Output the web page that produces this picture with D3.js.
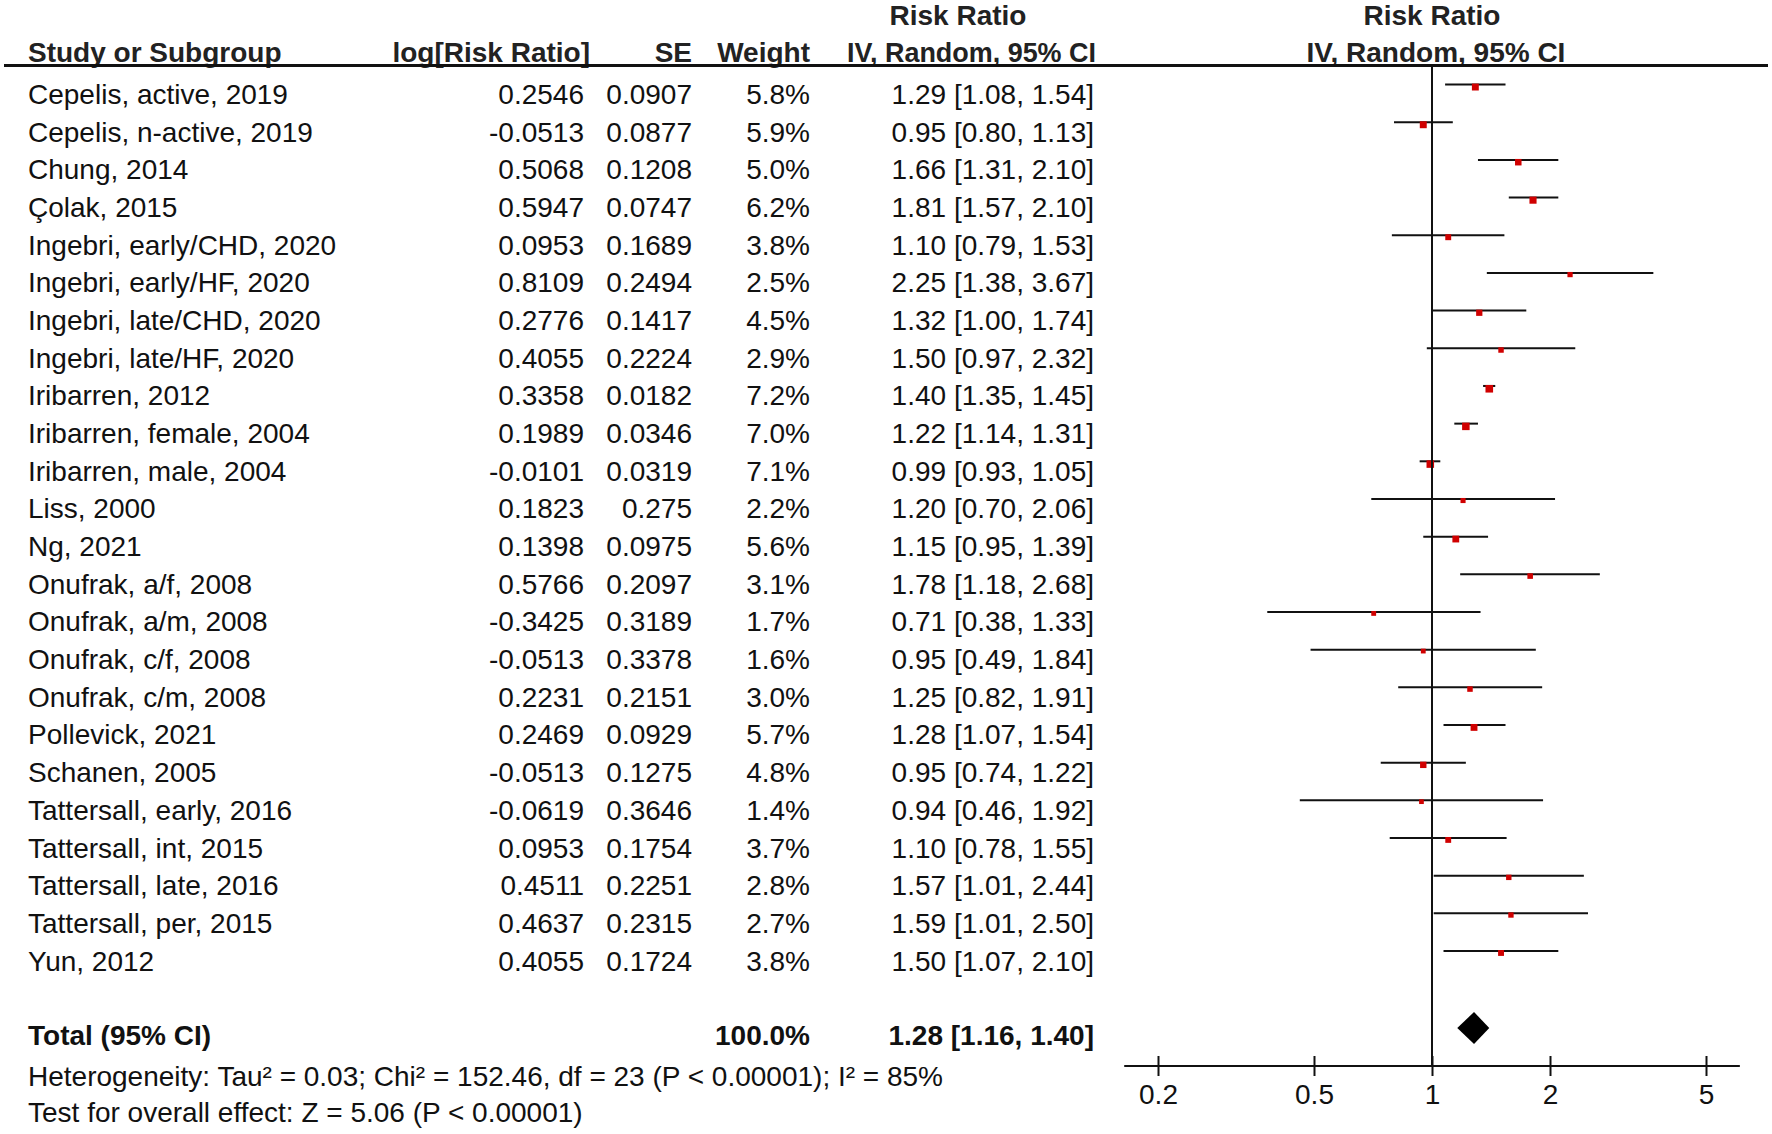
<!DOCTYPE html>
<html>
<head>
<meta charset="utf-8">
<script src="https://cdn.jsdelivr.net/npm/d3@7"></script>
<style>
  body { margin: 0; background: #fff; }
  svg { display: block; font-family: "Liberation Sans", Arial, sans-serif; }
</style>
</head>
<body>
<svg id="chart"></svg>
<script>
var studies = [
  "Cepelis, active, 2019", "Cepelis, n-active, 2019", "Chung, 2014", "Çolak, 2015",
  "Ingebri, early/CHD, 2020", "Ingebri, early/HF, 2020", "Ingebri, late/CHD, 2020",
  "Ingebri, late/HF, 2020", "Iribarren, 2012", "Iribarren, female, 2004",
  "Iribarren, male, 2004", "Liss, 2000", "Ng, 2021", "Onufrak, a/f, 2008",
  "Onufrak, a/m, 2008", "Onufrak, c/f, 2008", "Onufrak, c/m, 2008", "Pollevick, 2021",
  "Schanen, 2005", "Tattersall, early, 2016", "Tattersall, int, 2015",
  "Tattersall, late, 2016", "Tattersall, per, 2015", "Yun, 2012"
];
var logRR = [0.2546, -0.0513, 0.5068, 0.5947, 0.0953, 0.8109, 0.2776, 0.4055, 0.3358, 0.1989,
  -0.0101, 0.1823, 0.1398, 0.5766, -0.3425, -0.0513, 0.2231, 0.2469, -0.0513, -0.0619,
  0.0953, 0.4511, 0.4637, 0.4055];
var se = [0.0907, 0.0877, 0.1208, 0.0747, 0.1689, 0.2494, 0.1417, 0.2224, 0.0182, 0.0346,
  0.0319, 0.275, 0.0975, 0.2097, 0.3189, 0.3378, 0.2151, 0.0929, 0.1275, 0.3646,
  0.1754, 0.2251, 0.2315, 0.1724];
var weight = [5.8, 5.9, 5.0, 6.2, 3.8, 2.5, 4.5, 2.9, 7.2, 7.0, 7.1, 2.2, 5.6, 3.1, 1.7, 1.6,
  3.0, 5.7, 4.8, 1.4, 3.7, 2.8, 2.7, 3.8];
var rr = [1.29, 0.95, 1.66, 1.81, 1.10, 2.25, 1.32, 1.50, 1.40, 1.22, 0.99, 1.20, 1.15, 1.78,
  0.71, 0.95, 1.25, 1.28, 0.95, 0.94, 1.10, 1.57, 1.59, 1.50];
var lower = [1.08, 0.80, 1.31, 1.57, 0.79, 1.38, 1.00, 0.97, 1.35, 1.14, 0.93, 0.70, 0.95, 1.18,
  0.38, 0.49, 0.82, 1.07, 0.74, 0.46, 0.78, 1.01, 1.01, 1.07];
var upper = [1.54, 1.13, 2.10, 2.10, 1.53, 3.67, 1.74, 2.32, 1.45, 1.31, 1.05, 2.06, 1.39, 2.68,
  1.33, 1.84, 1.91, 1.54, 1.22, 1.92, 1.55, 2.44, 2.50, 2.10];
var total = { rr: 1.28, lower: 1.16, upper: 1.40, weight: 100.0 };
var tickValues = [0.2, 0.5, 1, 2, 5];
var axisExtent = [0.164, 6.1];
var heterogeneity = "Heterogeneity: Tau\u00b2 = 0.03; Chi\u00b2 = 152.46, df = 23 (P < 0.00001); I\u00b2 = 85%";
var overallEffect = "Test for overall effect: Z = 5.06 (P < 0.00001)";

var width = 1772, height = 1134,
    fontSize = 28,
    rowStep = 37.67,
    firstLine = 84.6,      // y of the first CI line
    textOffset = 19.5,     // baseline sits below the CI line
    headerLineY = 65.5,
    axisY = 1066,
    col = { name: 28, log: 584, se: 692, weight: 810, ci: 1094 };

var rows = studies.map(function(name, i) {
  return { name: name, log: logRR[i], se: se[i], weight: weight[i],
           rr: rr[i], lower: lower[i], upper: upper[i] };
});

var svg = d3.select("#chart")
  .attr("width", width)
  .attr("height", height)
  .style("font-size", fontSize + "px");

var x = d3.scaleLog().domain([0.2, 5]).range([1158, 1706]);
var y = d3.scaleLinear().domain([0, 1]).range([firstLine, firstLine + rowStep]);
var boxSize = d3.scaleLinear().domain([0, 10]).range([4, 9]);

function fmt(v) { return v.toFixed(2); }
function ciText(d) { return fmt(d.rr) + " [" + fmt(d.lower) + ", " + fmt(d.upper) + "]"; }

// header
var head = svg.append("g").style("font-weight", "bold").attr("fill", "#222");
head.append("text").attr("x", 958).attr("y", 25).attr("text-anchor", "middle").text("Risk Ratio");
head.append("text").attr("x", x(1)).attr("y", 25).attr("text-anchor", "middle").text("Risk Ratio");
[
  { t: "Study or Subgroup", x: col.name, a: "start" },
  { t: "log[Risk Ratio]", x: 590, a: "end" },
  { t: "SE", x: col.se, a: "end" },
  { t: "Weight", x: col.weight, a: "end" },
  { t: "IV, Random, 95% CI", x: 847, a: "start", len: 249 },
  { t: "IV, Random, 95% CI", x: 1436, a: "middle" }
].forEach(function(h) {
  var t = head.append("text")
    .attr("x", h.x).attr("y", 62)
    .attr("text-anchor", h.a)
    .style("text-decoration", "underline")
    .text(h.t);
  if (h.len) t.attr("textLength", h.len).attr("lengthAdjust", "spacingAndGlyphs");
});

svg.append("line")
  .attr("x1", 4).attr("x2", 1768)
  .attr("y1", headerLineY).attr("y2", headerLineY)
  .attr("stroke", "#111").attr("stroke-width", 3);

// study rows
var row = svg.selectAll("g.row")
  .data(rows)
  .enter().append("g")
  .attr("class", "row")
  .attr("fill", "#111");

row.append("text").attr("x", col.name).attr("y", function(d, i) { return y(i) + textOffset; })
  .text(function(d) { return d.name; });
row.append("text").attr("x", col.log).attr("text-anchor", "end")
  .attr("y", function(d, i) { return y(i) + textOffset; })
  .text(function(d) { return String(d.log); });
row.append("text").attr("x", col.se).attr("text-anchor", "end")
  .attr("y", function(d, i) { return y(i) + textOffset; })
  .text(function(d) { return String(d.se); });
row.append("text").attr("x", col.weight).attr("text-anchor", "end")
  .attr("y", function(d, i) { return y(i) + textOffset; })
  .text(function(d) { return d.weight.toFixed(1) + "%"; });
row.append("text").attr("x", col.ci).attr("text-anchor", "end")
  .attr("y", function(d, i) { return y(i) + textOffset; })
  .text(ciText);

// line of no effect
svg.append("line")
  .attr("x1", x(1)).attr("x2", x(1))
  .attr("y1", headerLineY).attr("y2", axisY)
  .attr("stroke", "#111").attr("stroke-width", 2);

// CI whiskers and weighted squares (squares hang just below the whisker)
row.append("line")
  .attr("x1", function(d) { return x(d.lower); })
  .attr("x2", function(d) { return x(d.upper); })
  .attr("y1", function(d, i) { return y(i); })
  .attr("y2", function(d, i) { return y(i); })
  .attr("stroke", "#111").attr("stroke-width", 2);

row.append("rect")
  .attr("width", function(d) { return boxSize(d.weight); })
  .attr("height", function(d) { return boxSize(d.weight); })
  .attr("x", function(d) { return x(d.rr) - boxSize(d.weight) / 2; })
  .attr("y", function(d, i) { return y(i) - 1; })
  .attr("fill", "#d00000");

// total
var totalY = 1028;
var tot = svg.append("g").style("font-weight", "bold").attr("fill", "#111");
tot.append("text").attr("x", col.name).attr("y", 1045).text("Total (95% CI)");
tot.append("text").attr("x", col.weight).attr("y", 1045).attr("text-anchor", "end")
  .text(total.weight.toFixed(1) + "%");
tot.append("text").attr("x", col.ci).attr("y", 1045).attr("text-anchor", "end")
  .text(ciText(total));

svg.append("path")
  .attr("d", d3.line()([
    [x(total.lower), totalY], [x(total.rr), totalY - 16],
    [x(total.upper), totalY], [x(total.rr), totalY + 16]
  ]) + "Z")
  .attr("fill", "#000");

svg.append("text").attr("x", col.name).attr("y", 1086).attr("fill", "#111").text(heterogeneity);
svg.append("text").attr("x", col.name).attr("y", 1122).attr("fill", "#111").text(overallEffect);

// axis
var axis = svg.append("g")
  .attr("transform", "translate(0," + axisY + ")")
  .call(d3.axisBottom(x).tickValues(tickValues).tickFormat(d3.format("")).tickSize(10));

axis.select(".domain").remove();
axis.append("line")
  .attr("x1", x(axisExtent[0])).attr("x2", x(axisExtent[1]))
  .attr("stroke", "#111").attr("stroke-width", 2);
axis.selectAll(".tick line").attr("y1", -10).attr("y2", 10)
  .attr("stroke", "#111").attr("stroke-width", 2);
axis.selectAll(".tick text")
  .attr("y", 38).attr("dy", 0)
  .attr("fill", "#111")
  .style("font-size", fontSize + "px")
  .style("font-family", "'Liberation Sans', Arial, sans-serif");
</script>
</body>
</html>
